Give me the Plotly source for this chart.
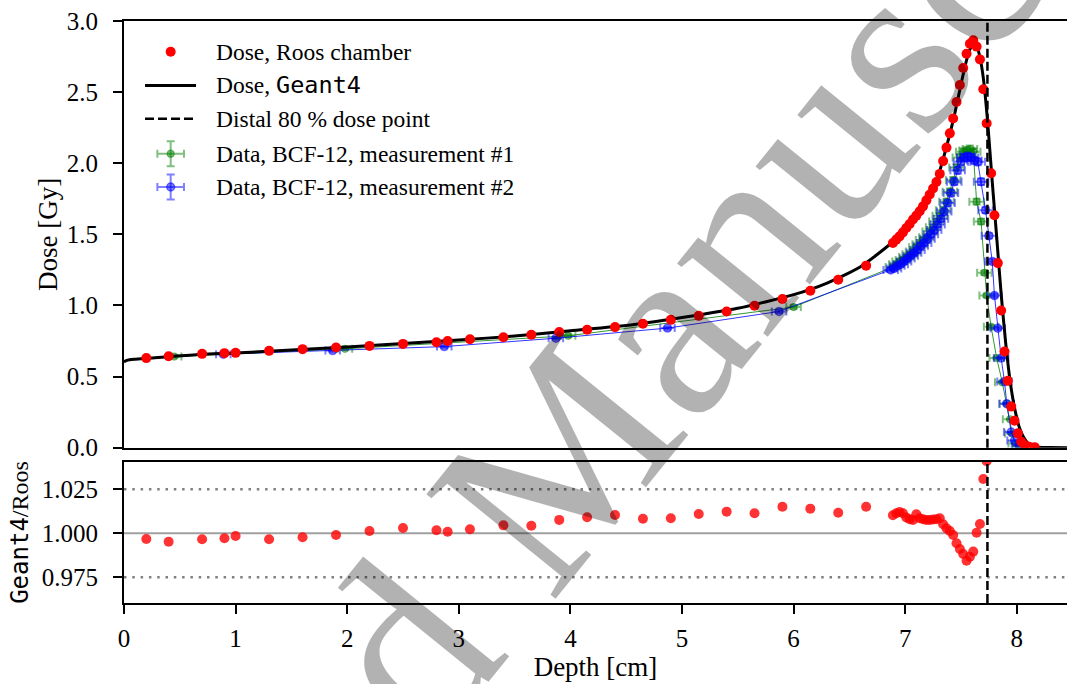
import plotly.graph_objects as go

# ---------------- data ----------------
roos_depth = [0.2, 0.4, 0.7, 0.9, 1.0, 1.3, 1.6, 1.9, 2.2, 2.5, 2.8, 2.9, 3.1, 3.4, 3.65, 3.9,
              4.15, 4.4, 4.65, 4.9, 5.15, 5.4, 5.65, 5.9, 6.15, 6.4, 6.65,
              6.89, 6.92, 6.95, 6.98, 7.01, 7.04, 7.07, 7.10, 7.13, 7.16, 7.19, 7.22, 7.25,
              7.28, 7.31, 7.34, 7.37, 7.40, 7.43, 7.46, 7.49, 7.52, 7.55, 7.58, 7.61, 7.64,
              7.67, 7.70, 7.73, 7.77, 7.80, 7.83, 7.86, 7.89, 7.92, 7.95, 7.98, 8.01, 8.04,
              8.07, 8.11, 8.16]
roos_dose = [0.630, 0.643, 0.660, 0.665, 0.667, 0.681, 0.693, 0.704, 0.716, 0.730, 0.742, 0.750,
             0.763, 0.777, 0.794, 0.813, 0.829, 0.848, 0.871, 0.899, 0.927, 0.958, 0.998, 1.045,
             1.104, 1.181, 1.280,
             1.439, 1.463, 1.486, 1.514, 1.545, 1.573, 1.604, 1.632, 1.662, 1.697, 1.739, 1.780,
             1.822, 1.868, 1.925, 2.015, 2.110, 2.210, 2.315, 2.430, 2.550, 2.670, 2.770, 2.840,
             2.865, 2.820, 2.730, 2.520, 2.280, 1.930, 1.634, 1.298, 0.965, 0.676, 0.470, 0.289,
             0.190, 0.101, 0.042, 0.019, 0.007, 0.004]

ratio_depth = roos_depth[:56]
ratio_value = [0.9968, 0.9952, 0.9966, 0.9972, 0.9985, 0.9966, 0.9977, 0.9990, 1.0013, 1.0030,
               1.0017, 1.0009, 1.0023, 1.0045, 1.0043, 1.0076, 1.0091, 1.0104, 1.0083, 1.0085,
               1.0110, 1.0123, 1.0114, 1.0151, 1.0140, 1.0117, 1.0151,
               1.0102, 1.0114, 1.0121, 1.0114, 1.0090, 1.0080, 1.0076, 1.0108, 1.0085, 1.0080,
               1.0076, 1.0076, 1.0078, 1.0080, 1.0085, 1.0051, 1.0028, 1.0013, 0.9990, 0.9943,
               0.9911, 0.9882, 0.9844, 0.9867, 0.9896, 1.0003, 1.0053, 1.0308, 1.0410]

g4_depth = [0.0, 0.02, 0.05, 0.1, 0.2, 0.4, 0.7, 1.0, 1.5, 2.0, 2.5, 3.0, 3.5, 4.0, 4.5, 5.0,
            5.5, 6.0, 6.3, 6.6, 6.9, 7.0, 7.1, 7.2, 7.3, 7.4, 7.45, 7.5, 7.55, 7.58, 7.61, 7.64,
            7.67, 7.70, 7.74, 7.78, 7.82, 7.86, 7.90, 7.94, 7.98, 8.02, 8.06, 8.10, 8.15, 8.20,
            8.30, 8.45]
g4_dose = [0.603, 0.612, 0.618, 0.622, 0.628, 0.640, 0.658, 0.666, 0.687, 0.708, 0.732, 0.757,
           0.785, 0.823, 0.859, 0.915, 0.980, 1.076, 1.158, 1.273, 1.456, 1.556, 1.650, 1.755,
           1.925, 2.205, 2.370, 2.555, 2.725, 2.800, 2.838, 2.825, 2.745, 2.600, 2.280, 1.870,
           1.480, 1.080, 0.740, 0.470, 0.280, 0.150, 0.075, 0.032, 0.010, 0.003, 0.001, 0.000]

bcf1_depth = [0.45, 1.98, 3.98, 6.00, 6.89, 6.92, 6.95, 6.98, 7.01, 7.04, 7.07, 7.10, 7.13, 7.16,
              7.19, 7.22, 7.25, 7.28, 7.31, 7.34, 7.37, 7.40, 7.43, 7.46, 7.49, 7.52, 7.55, 7.58,
              7.61, 7.64, 7.68, 7.71, 7.73, 7.77, 7.82, 7.87, 7.91, 7.94, 7.96, 7.99, 8.03]
bcf1_dose = [0.641, 0.695, 0.787, 0.989, 1.27, 1.29, 1.31, 1.32, 1.34, 1.36, 1.38, 1.41, 1.43,
             1.46, 1.48, 1.52, 1.55, 1.59, 1.63, 1.67, 1.73, 1.80, 1.88, 1.97, 2.04, 2.08, 2.09,
             2.10, 2.08, 1.73, 1.59, 1.23, 1.07, 0.85, 0.63, 0.46, 0.31, 0.20, 0.10, 0.03, 0.01]

bcf2_depth = [0.89, 1.87, 2.87, 3.87, 4.87, 5.87, 6.87, 6.90, 6.93, 6.96, 6.99, 7.02, 7.05, 7.08,
              7.11, 7.14, 7.17, 7.20, 7.23, 7.26, 7.29, 7.32, 7.35, 7.38, 7.41, 7.44, 7.47, 7.50,
              7.53, 7.56, 7.59, 7.62, 7.65, 7.68, 7.72, 7.75, 7.78, 7.80, 7.83, 7.86, 7.89, 7.91,
              7.95, 7.98, 8.02]
bcf2_dose = [0.658, 0.683, 0.711, 0.770, 0.841, 0.958, 1.25, 1.26, 1.28, 1.29, 1.31, 1.33, 1.35,
             1.37, 1.39, 1.42, 1.44, 1.47, 1.50, 1.53, 1.57, 1.61, 1.66, 1.72, 1.79, 1.87, 1.95,
             2.01, 2.04, 2.05, 2.04, 2.02, 2.01, 1.87, 1.67, 1.49, 1.31, 1.07, 0.84, 0.63, 0.465,
             0.31, 0.11, 0.05, 0.015]

bcf_depth_err = 0.065
bcf_rel_dose_err = 0.012
distal80 = 7.737

x_ticks = [0, 1, 2, 3, 4, 5, 6, 7, 8]
dose_ticks = [0.0, 0.5, 1.0, 1.5, 2.0, 2.5, 3.0]
ratio_ticks = [0.975, 1.000, 1.025]
ratio_ref = 1.0
ratio_band = [0.975, 1.025]

legend_labels = ["Dose, Roos chamber",
                 "Dose, <span style='font-family:DejaVu Sans Mono'>Geant4</span>",
                 "Distal 80 % dose point",
                 "Data, BCF-12, measurement #1",
                 "Data, BCF-12, measurement #2"]

SERIF = "Liberation Serif"
FS_LEG = 23.5
FS_TICK = 25
FS_TITLE = 27

GREEN = "rgba(0,128,0,0.5)"
BLUE = "rgba(0,0,255,0.5)"
GREEN_L = "rgba(0,128,0,0.8)"
BLUE_L = "rgba(0,0,255,0.8)"

fig = go.Figure()

# BCF measurement #1 (green)
fig.add_trace(go.Scatter(
    x=bcf1_depth, y=bcf1_dose, mode="lines+markers", xaxis="x", yaxis="y",
    line=dict(color=GREEN_L, width=1),
    marker=dict(color=GREEN, size=7, symbol="circle", line=dict(width=1.2, color=GREEN)),
    error_x=dict(type="constant", value=bcf_depth_err, color=GREEN, thickness=2, width=4),
    error_y=dict(type="percent", value=bcf_rel_dose_err * 100, color=GREEN, thickness=2, width=4),
    showlegend=False))
# BCF measurement #2 (blue)
fig.add_trace(go.Scatter(
    x=bcf2_depth, y=bcf2_dose, mode="lines+markers", xaxis="x", yaxis="y",
    line=dict(color=BLUE_L, width=1),
    marker=dict(color=BLUE, size=8, symbol="circle", line=dict(width=1.5, color=BLUE)),
    error_x=dict(type="constant", value=bcf_depth_err, color=BLUE, thickness=2, width=4),
    error_y=dict(type="percent", value=bcf_rel_dose_err * 100, color=BLUE, thickness=2, width=4),
    showlegend=False))
# Geant4
fig.add_trace(go.Scatter(x=g4_depth, y=g4_dose, mode="lines", xaxis="x", yaxis="y",
                         line=dict(color="black", width=3, shape="spline", smoothing=0.6),
                         showlegend=False))
# Roos
fig.add_trace(go.Scatter(x=roos_depth, y=roos_dose, mode="markers", xaxis="x", yaxis="y",
                         marker=dict(color="red", size=10), showlegend=False))
# ratio
fig.add_trace(go.Scatter(x=ratio_depth, y=ratio_value, mode="markers", xaxis="x2", yaxis="y2",
                         marker=dict(color="rgba(255,0,0,0.8)", size=10), showlegend=False,
                         cliponaxis=True))

# ---------- manual legend (overlay axes in domain fractions) ----------
leg_x_icon = 0.0495
leg_y = [0.928, 0.849, 0.771, 0.689, 0.611]
fig.add_trace(go.Scatter(x=[leg_x_icon], y=[leg_y[0]], mode="markers", xaxis="x3", yaxis="y3",
                         marker=dict(color="red", size=10), showlegend=False, hoverinfo="skip"))
fig.add_trace(go.Scatter(x=[0.0223, 0.0764], y=[leg_y[1]] * 2, mode="lines", xaxis="x3", yaxis="y3",
                         line=dict(color="black", width=3), showlegend=False, hoverinfo="skip"))
fig.add_trace(go.Scatter(x=[0.0223, 0.0764], y=[leg_y[2]] * 2, mode="lines", xaxis="x3", yaxis="y3",
                         line=dict(color="black", width=2.5, dash="9px,4px"), showlegend=False,
                         hoverinfo="skip"))
for yy, col, sz in [(leg_y[3], GREEN, 7), (leg_y[4], BLUE, 8)]:
    fig.add_trace(go.Scatter(x=[leg_x_icon], y=[yy], mode="markers", xaxis="x3", yaxis="y3",
                             marker=dict(color=col, size=sz, line=dict(width=1.3, color=col)),
                             error_x=dict(type="constant", value=0.0141, color=col, thickness=2, width=4),
                             error_y=dict(type="constant", value=0.0293, color=col, thickness=2, width=4),
                             showlegend=False, hoverinfo="skip"))

annotations = []
for lab, yy in zip(legend_labels, leg_y):
    annotations.append(dict(text=lab, x=0.0958, y=yy, xref="x domain", yref="y domain",
                            xanchor="left", yanchor="middle", showarrow=False,
                            font=dict(family=SERIF, size=FS_LEG, color="black")))
# watermark
annotations.append(dict(text="Accepted Manuscript", x=0.427, y=0.180, xref="paper", yref="paper",
                        xanchor="center", yanchor="middle", showarrow=False, textangle=-51,
                        font=dict(family=SERIF, size=254, color="rgba(0,0,0,0.3)")))

shapes = [
    dict(type="line", xref="x", yref="y domain", x0=distal80, x1=distal80, y0=0, y1=1,
         line=dict(color="black", width=2.5, dash="9px,4px")),
    dict(type="line", xref="x2", yref="y2 domain", x0=distal80, x1=distal80, y0=0, y1=1,
         line=dict(color="black", width=2.5, dash="9px,4px")),
    dict(type="line", xref="x2 domain", yref="y2", x0=0, x1=1, y0=ratio_ref, y1=ratio_ref,
         layer="below", line=dict(color="#a0a0a0", width=2)),
]
for b in ratio_band:
    shapes.append(dict(type="line", xref="x2 domain", yref="y2", x0=0, x1=1, y0=b, y1=b,
                       layer="below", line=dict(color="#808080", width=2.5, dash="2.5px,5.8px")))

axis_common = dict(showline=True, linecolor="black", linewidth=2, showgrid=False, zeroline=False,
                   tickfont=dict(family=SERIF, size=FS_TICK, color="black"),
                   ticks="outside", ticklen=9, tickwidth=2, tickcolor="black")

fig.update_layout(
    width=1067, height=684,
    margin=dict(l=124, r=0, t=21, b=81),
    paper_bgcolor="white", plot_bgcolor="white",
    font=dict(family=SERIF, size=FS_TICK, color="black"),
    showlegend=False,
    xaxis=dict(**{**axis_common, "ticks": ""}, domain=[0, 1], anchor="y", range=[0, 8.45],
               showticklabels=False, mirror=True, matches="x2"),
    yaxis=dict(**axis_common, domain=[0.2668, 1], anchor="x", range=[0, 3.0],
               tickvals=dose_ticks, tickformat=".1f", ticklabelstandoff=10,
               title=dict(text="Dose [Gy]", font=dict(family=SERIF, size=FS_TITLE), standoff=1)),
    xaxis2=dict(**axis_common, domain=[0, 1], anchor="y2", range=[0, 8.45], tickvals=x_ticks,
                mirror=True, ticklabelstandoff=3,
                title=dict(text="Depth [cm]", font=dict(family=SERIF, size=FS_TITLE), standoff=6)),
    yaxis2=dict(**axis_common, domain=[0, 0.2423], anchor="x2", range=[0.9604, 1.0405],
                tickvals=ratio_ticks, tickformat=".3f", ticklabelstandoff=10,
                title=dict(text="<span style='font-family:DejaVu Sans Mono'>Geant4</span>/Roos",
                           font=dict(family=SERIF, size=24), standoff=6)),
    xaxis3=dict(overlaying="x", range=[0, 1], visible=False, anchor="y3"),
    yaxis3=dict(overlaying="y", range=[0, 1], visible=False, anchor="x3"),
    annotations=annotations,
    shapes=shapes,
)

fig.write_html("out.html")
